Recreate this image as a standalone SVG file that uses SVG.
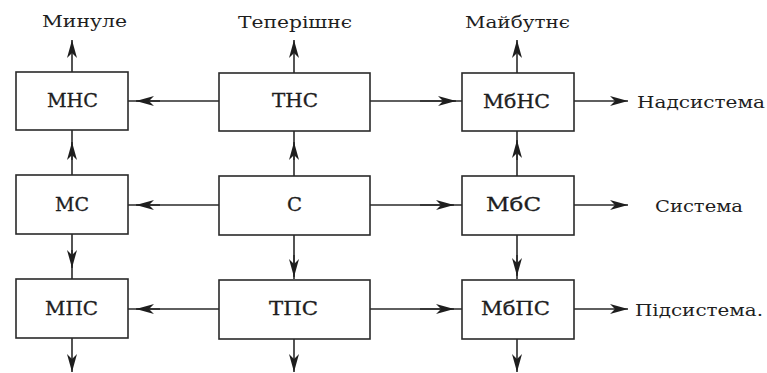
<svg xmlns="http://www.w3.org/2000/svg" width="767" height="373" viewBox="0 0 767 373">
<defs>
<marker id="ah" markerUnits="userSpaceOnUse" viewBox="0 0 18 10" refX="18" refY="5" markerWidth="18" markerHeight="10" orient="auto">
<path d="M0,0 L18,5 L0,10 L5,5 Z" fill="#1e1e1e"/>
</marker>
<style>
.box{fill:#fff;stroke:#2a2a2a;stroke-width:1.6}
.ln{fill:none;stroke:#2a2a2a;stroke-width:1.6}
.hd{fill:none;stroke:#2a2a2a;stroke-width:1.6;marker-end:url(#ah)}
.t{font-family:"DejaVu Serif","Liberation Serif",serif;font-size:17px;fill:#1e1e1e}
.b{font-family:"DejaVu Serif","Liberation Serif",serif;font-size:18px;fill:#1e1e1e;stroke:#1e1e1e;stroke-width:0.3}
</style>
</defs>
<rect width="767" height="373" fill="#fff"/>
<g id="connectors">
<path class="hd" d="M72,72 L72,40"/>
<path class="hd" d="M294,73 L294,40"/>
<path class="hd" d="M517,73 L517,40"/>
<path class="ln" d="M72,175 L72,130"/><path class="hd" d="M72,160 L72,142"/>
<path class="ln" d="M294,176 L294,131"/><path class="hd" d="M294,160 L294,142"/>
<path class="ln" d="M517,176 L517,131"/><path class="hd" d="M517,160 L517,140"/>
<path class="ln" d="M72,234 L72,279"/><path class="hd" d="M72,250 L72,268"/>
<path class="ln" d="M294,235 L294,279"/><path class="hd" d="M294,255 L294,277"/>
<path class="ln" d="M517,235 L517,279"/><path class="hd" d="M517,255 L517,276"/>
<path class="hd" d="M72,338 L72,372"/>
<path class="hd" d="M294,339 L294,372"/>
<path class="hd" d="M517,339 L517,372"/>
<path class="ln" d="M219,101 L128,101"/><path class="hd" d="M160,101 L136,101"/>
<path class="ln" d="M370,101 L462,101"/><path class="hd" d="M420,101 L456,101"/>
<path class="hd" d="M574,101 L628,101"/>
<path class="ln" d="M219,205 L128,205"/><path class="hd" d="M160,205 L136,205"/>
<path class="ln" d="M370,205 L462,205"/><path class="hd" d="M420,205 L454,205"/>
<path class="hd" d="M574,205 L628,205"/>
<path class="ln" d="M219,309 L128,309"/><path class="hd" d="M160,309 L136,309"/>
<path class="ln" d="M370,309 L462,309"/><path class="hd" d="M420,309 L454,309"/>
<path class="hd" d="M574,309 L628,309"/>
</g>
<g id="MNS"><rect class="box" x="16" y="72" width="112" height="58"/><text class="b" x="47" y="107" textLength="51" lengthAdjust="spacingAndGlyphs">МНС</text></g>
<g id="TNS"><rect class="box" x="219" y="73" width="151" height="58"/><text class="b" x="272" y="107" textLength="46" lengthAdjust="spacingAndGlyphs">ТНС</text></g>
<g id="MbNS"><rect class="box" x="462" y="73" width="112" height="58"/><text class="b" x="483" y="108" textLength="67" lengthAdjust="spacingAndGlyphs">МбНС</text></g>
<g id="MS"><rect class="box" x="16" y="175" width="112" height="59"/><text class="b" x="55" y="211" textLength="34" lengthAdjust="spacingAndGlyphs">МС</text></g>
<g id="S"><rect class="box" x="219" y="176" width="151" height="59"/><text class="b" x="287" y="211" textLength="15" lengthAdjust="spacingAndGlyphs">С</text></g>
<g id="MbS"><rect class="box" x="462" y="176" width="112" height="59"/><text class="b" x="486" y="211" textLength="55" lengthAdjust="spacingAndGlyphs">МбС</text></g>
<g id="MPS"><rect class="box" x="16" y="279" width="112" height="59"/><text class="b" x="45" y="315" textLength="53" lengthAdjust="spacingAndGlyphs">МПС</text></g>
<g id="TPS"><rect class="box" x="219" y="280" width="151" height="59"/><text class="b" x="269" y="315" textLength="49" lengthAdjust="spacingAndGlyphs">ТПС</text></g>
<g id="MbPS"><rect class="box" x="462" y="280" width="112" height="59"/><text class="b" x="481" y="315" textLength="69" lengthAdjust="spacingAndGlyphs">МбПС</text></g>
<g id="labels">
<text class="t" x="42" y="27" textLength="85" lengthAdjust="spacingAndGlyphs">Минуле</text>
<text class="t" x="238" y="28" textLength="114" lengthAdjust="spacingAndGlyphs">Теперішнє</text>
<text class="t" x="465" y="28" textLength="105" lengthAdjust="spacingAndGlyphs">Майбутнє</text>
<text class="t" x="637" y="108" textLength="128" lengthAdjust="spacingAndGlyphs">Надсистема</text>
<text class="t" x="655" y="212" textLength="88" lengthAdjust="spacingAndGlyphs">Система</text>
<text class="t" x="635" y="316" textLength="128" lengthAdjust="spacingAndGlyphs">Підсистема.</text>
</g>
</svg>
